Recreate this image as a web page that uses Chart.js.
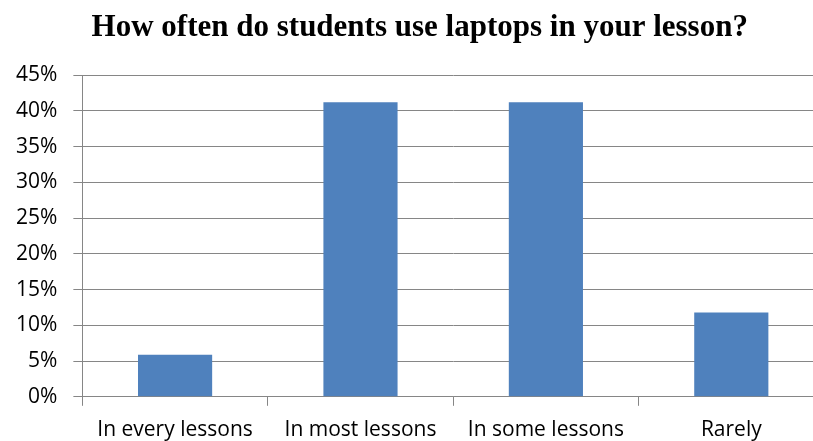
<!DOCTYPE html>
<html>
<head>
<meta charset="utf-8">
<script src="https://cdn.jsdelivr.net/npm/chart.js@4/dist/chart.umd.min.js"></script>
<style>
  html, body { margin: 0; padding: 0; background: #fff; overflow: hidden; }
  #wrap { width: 813px; height: 441px; overflow: hidden; }
  canvas { display: block; }
</style>
</head>
<body>
<div id="wrap">
  <canvas id="chart" width="840" height="455"></canvas>
</div>
<script>
const chartTitle = '  How often do students use laptops in your lesson?';
const categories = ['In every lessons', 'In most lessons', 'In some lessons', 'Rarely'];
const shares = [0.059, 0.412, 0.412, 0.118];
const yTickMax = 0.45;
const yTickStep = 0.05;

const gridGray = '#868686';
const labelFont = { family: '"Open Sans", "Noto Sans", sans-serif', size: 21 };

const ctx = document.getElementById('chart').getContext('2d');
new Chart(ctx, {
  type: 'bar',
  data: {
    labels: categories,
    datasets: [{
      data: shares,
      backgroundColor: '#4F81BD',
      borderWidth: 0,
      barPercentage: 0.8,
      categoryPercentage: 0.5
    }]
  },
  options: {
    responsive: false,
    animation: false,
    layout: { padding: { left: 0, right: 16, top: 0, bottom: 0 } },
    plugins: {
      legend: { display: false },
      tooltip: { enabled: false },
      title: {
        display: true,
        text: chartTitle,
        color: '#000',
        font: { family: '"Liberation Serif", "Times New Roman", serif', size: 31, weight: 'bold' },
        padding: { top: 9, bottom: 29 }
      }
    },
    scales: {
      x: {
        grid: {
          offset: true,
          drawOnChartArea: false,
          drawTicks: true,
          tickLength: 9,
          color: gridGray
        },
        border: { color: gridGray, width: 1 },
        ticks: { color: '#000', font: labelFont, padding: 12, maxRotation: 0, autoSkip: false }
      },
      y: {
        min: 0,
        max: yTickMax,
        grid: { color: gridGray, tickLength: 9, lineWidth: 1 },
        border: { color: gridGray, width: 1 },
        ticks: {
          stepSize: yTickStep,
          color: '#000',
          font: labelFont,
          padding: 16,
          callback: v => Math.round(v * 100) + '%'
        }
      }
    }
  }
});
</script>
</body>
</html>
